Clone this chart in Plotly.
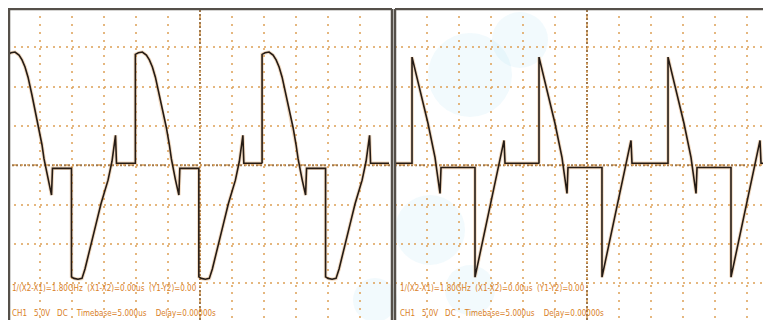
import plotly.graph_objects as go

# ---------------- data ----------------
# time in microseconds (5 us/div), voltage in volts (5 V/div)
# Left trace: one cycle template relative to its rising edge
left_cycle_t = [0.0, 0.0, 0.47, 1.09, 1.72, 2.19, 2.66, 3.13, 3.75, 4.38, 4.84, 5.31, 5.63, 6.25, 6.80, 6.95, 9.92,
                9.92, 10.31, 10.94, 11.56, 12.03, 12.97, 13.75, 14.53, 15.63, 16.25, 16.80, 16.95, 19.84]
left_cycle_v = [0.25, 14.1, 14.3, 14.4, 14.0, 13.4, 12.5, 11.2, 8.9, 6.5, 4.8, 2.6, 0.8, -1.8, -3.8, -0.4, -0.4,
                -14.2, -14.4, -14.5, -14.4, -13.2, -9.9, -7.5, -4.9, -1.9, 0.5, 3.8, 0.25, 0.25]
left_cycle_starts = [0.0, 19.9, 39.7]

# Right trace: one cycle template relative to its rising edge
right_cycle_t = [0.0, 0.0, 0.625, 1.5625, 2.5, 3.59, 4.375, 4.53, 9.84,
                 9.84, 10.94, 12.19, 13.44, 14.375, 14.53, 19.92]
right_cycle_v = [0.25, 13.75, 11.7, 8.6, 5.3, 1.0, -3.6, -0.3, -0.3,
                 -14.25, -10.05, -5.25, -0.45, 3.15, 0.25, 0.25]
right_cycle_starts = [2.66, 22.5, 42.66]
right_lead_t = [0.0]
right_lead_v = [0.25]

readout_line1 = "1/(X2-X1)=1.80GHz  (X1-X2)=0.00us  (Y1-Y2)=0.00"
readout_line2 = "CH1   5.0V   DC    Timebase=5.000us    Delay=0.00000s"

# ---------------- build traces ----------------
def tile(starts, ct, cv, lead_t=None, lead_v=None):
    xs, ys = [], []
    if lead_t:
        xs += list(lead_t); ys += list(lead_v)
    for s in starts:
        xs += [s + t for t in ct]
        ys += list(cv)
    return xs, ys

lx, ly = tile(left_cycle_starts, left_cycle_t, left_cycle_v)
rx, ry = tile(right_cycle_starts, right_cycle_t, right_cycle_v, right_lead_t, right_lead_v)

# page has an 8px body margin; figure occupies page pixels 8..771 x 8..320
OFF = 8
W, H = 771 - OFF, 320 - OFF
fig = go.Figure()

halo = dict(color="rgba(215,150,80,0.35)", width=3.5)
core = dict(color="#251b14", width=1.6)
fig.add_trace(go.Scatter(x=lx, y=ly, mode="lines", line=halo, xaxis="x", yaxis="y", hoverinfo="skip"))
fig.add_trace(go.Scatter(x=lx, y=ly, mode="lines", line=core, xaxis="x", yaxis="y"))
fig.add_trace(go.Scatter(x=rx, y=ry, mode="lines", line=halo, xaxis="x2", yaxis="y2", hoverinfo="skip"))
fig.add_trace(go.Scatter(x=rx, y=ry, mode="lines", line=core, xaxis="x2", yaxis="y2"))

yrange = [20 - H / 39.3 * 5, 20]
gridc = "rgba(222,165,95,0.8)"

xcommon = dict(showticklabels=False, ticks="", zeroline=False, showline=False,
               showgrid=True, gridcolor=gridc, gridwidth=2, griddash="2px,5.9px",
               tick0=0, dtick=5, fixedrange=True)
ycommon = dict(showticklabels=False, ticks="", zeroline=False, showline=False,
               showgrid=True, gridcolor=gridc, gridwidth=2, griddash="2px,4.4px",
               tick0=0, dtick=5, range=yrange, domain=[0, 1], fixedrange=True)

# panel edges in page pixels
L0, L1 = 8, 392
R0 = 395
fx = lambda px: (px - OFF) / W
fy = lambda py: 1 - (py - OFF) / H

fig.update_layout(
    width=W, height=H, margin=dict(l=0, r=0, t=0, b=0),
    paper_bgcolor="white", plot_bgcolor="rgba(0,0,0,0)", showlegend=False,
    xaxis=dict(xcommon, domain=[fx(L0), fx(L1)], range=[0, 60], anchor="y"),
    yaxis=dict(ycommon, anchor="x"),
    xaxis2=dict(xcommon, domain=[fx(R0), 1], range=[0, (771 - R0) / 6.4], anchor="y2"),
    yaxis2=dict(ycommon, anchor="x2"),
)

shapes = []
# very faint light-blue watermark blobs
wm = "rgba(190,230,245,0.2)"
for (cx, cy, r) in [(470, 75, 42), (520, 40, 28), (430, 230, 35), (470, 290, 25), (375, 300, 22)]:
    shapes.append(dict(type="circle", xref="paper", yref="paper",
                       x0=fx(cx - r), x1=fx(cx + r), y0=fy(cy + r), y1=fy(cy - r),
                       fillcolor=wm, line=dict(width=0), layer="below"))
cen = dict(color="rgba(150,105,55,0.9)", width=2, dash="2px,2px")
shapes.append(dict(type="line", xref="x", yref="y", x0=30, x1=30, y0=yrange[0], y1=20, line=cen, layer="below"))
shapes.append(dict(type="line", xref="x", yref="y", x0=0, x1=60, y0=0, y1=0, line=cen, layer="below"))
shapes.append(dict(type="line", xref="x2", yref="y2", x0=30, x1=30, y0=yrange[0], y1=20, line=cen, layer="below"))
shapes.append(dict(type="line", xref="x2", yref="y2", x0=0, x1=(771 - R0) / 6.4, y0=0, y1=0, line=cen, layer="below"))
bd = dict(color="#55504a", width=2.5)
ytop = fy(OFF + 1)
for x0 in [fx(L0 + 1), fx(L1), fx(R0)]:
    shapes.append(dict(type="line", xref="paper", yref="paper", x0=x0, x1=x0, y0=0, y1=ytop, line=bd))
shapes.append(dict(type="line", xref="paper", yref="paper", x0=fx(L0), x1=fx(L1), y0=ytop, y1=ytop, line=bd))
shapes.append(dict(type="line", xref="paper", yref="paper", x0=fx(R0), x1=1, y0=ytop, y1=ytop, line=bd))
fig.update_layout(shapes=shapes)

txtc = "#d9801f"
font = dict(family="DejaVu Sans Condensed, Liberation Sans Narrow, Arial Narrow, sans-serif", size=8, color=txtc)
for x0 in [L0 + 2, R0 + 3]:
    fig.add_annotation(x=fx(x0), y=fy(288), xref="paper", yref="paper", text=readout_line1,
                       showarrow=False, xanchor="left", yanchor="middle", font=font)
    fig.add_annotation(x=fx(x0), y=fy(313), xref="paper", yref="paper", text=readout_line2,
                       showarrow=False, xanchor="left", yanchor="middle", font=font)

fig.write_html("out.html")
